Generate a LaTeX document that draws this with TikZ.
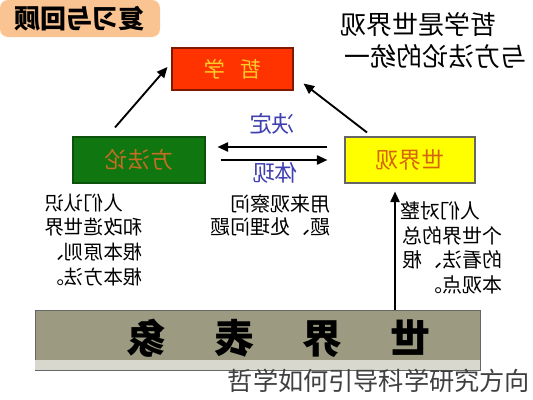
\documentclass[tikz,border=0pt]{standalone}
\usepackage{fontspec}
\usepackage{graphicx}
\setmainfont{Noto Sans CJK SC}
\usetikzlibrary{calc,arrows.meta}
\definecolor{tagbg}{RGB}{250,196,146}
\definecolor{zxred}{RGB}{255,51,0}
\definecolor{zxtext}{RGB}{255,204,40}
\definecolor{ffgreen}{RGB}{16,118,16}
\definecolor{fftext}{RGB}{196,110,36}
\definecolor{sjgyel}{RGB}{255,255,0}
\definecolor{sjgtext}{RGB}{214,100,10}
\definecolor{lblblue}{RGB}{64,64,176}
\definecolor{bbfill}{RGB}{156,155,130}
\definecolor{bband}{RGB}{216,216,206}
\newcommand\fsz[2]{\fontsize{#1pt}{#2pt}\selectfont}
\begin{document}
\begin{tikzpicture}[x=0.75pt,y=-0.75pt,
  tagbox/.style={fill=tagbg, rounded corners=6pt, inner sep=0pt,
    minimum width=160*0.75pt, minimum height=37*0.75pt},
  colbox/.style={draw, line width=0.8pt, inner sep=0pt},
  arr/.style={-{Triangle[length=8pt,width=7pt]}, line width=1.4pt},
  plain/.style={inner sep=0pt, text=black}]
\useasboundingbox (0,0) rectangle (533,400);
\fill[white] (0,0) rectangle (533,400);

% title tag
\node[tagbox] (tag) at (80,18.5) {\fsz{19.5}{22}\bfseries\reflectbox{复习与回顾}};

% top right statement
\node[plain] (stmt) at (433,44) {\fsz{19.5}{23.5}\reflectbox{\begin{tabular}{@{}l@{}}\hspace{22.5pt}哲学是世界观\\与方法论的统一\end{tabular}}};

% main boxes
\node[colbox, draw=zxred!50!black, fill=zxred, minimum width=121*0.75pt, minimum height=42*0.75pt, text=zxtext]
  (zx) at (232.5,69) {\fsz{16}{18}\reflectbox{哲\hspace{0.7em}学}};
\node[colbox, draw=ffgreen!70!black, fill=ffgreen, minimum width=132*0.75pt, minimum height=46*0.75pt, text=fftext]
  (ff) at (139,160) {\fsz{17}{20}\reflectbox{方法论}};
\node[colbox, draw=black!60, fill=sjgyel, minimum width=130*0.75pt, minimum height=46*0.75pt, text=sjgtext]
  (sjg) at (410,160) {\fsz{17}{20}\reflectbox{世界观}};

% bottom box
\node[colbox, draw=black!60, line width=0.6pt, fill=bbfill, minimum width=445*0.75pt, minimum height=60*0.75pt]
  (bb) at (257.5,340) {};
\fill[bband] ($(bb.south west)+(0.5,-10)$) rectangle ($(bb.south east)+(-0.5,-0.5)$);
\node[plain] (bbt) at (278.5,338) {\fsz{30}{34}\bfseries\reflectbox{世\hspace{36pt}界\hspace{36pt}表\hspace{36pt}象}};

% connector labels
\node[plain, text=lblblue] (jd) at (272,124) {\fsz{17}{20}\reflectbox{决定}};
\node[plain, text=lblblue] (tx) at (275,173) {\fsz{17}{20}\reflectbox{体现}};

% arrows
\draw[arr] ($(ff.north)+(-24,-9)$) -- ($(zx.west)+(-4,-2)$);
\draw[arr] ($(sjg.north)+(-43,-4)$) -- ($(zx.south east)+(10,-7)$);
\draw[arr] ($(sjg.west)+(-17,-13)$) -- ($(ff.east)+(12,-13)$);
\draw[arr] ($(ff.east)+(15,0)$) -- ($(sjg.west)+(-17,0)$);
\draw[arr] ($(bb.north)+(137.5,0)$) -- ($(sjg.south)+(-15,8)$);

% text blocks
\node[plain, anchor=north east] (lt) at (143,193) {\fsz{14.7}{18.4}\reflectbox{\begin{tabular}{@{}l@{}}\hspace{14.7pt}人们认识\\和改造世界\\根本原则、\\根本方法。\end{tabular}}};
\node[plain, anchor=north east] (mt) at (331,194) {\fsz{15}{16.5}\reflectbox{\begin{tabular}{@{}l@{}}用来观察问\\题、处理问题\end{tabular}}};
\node[plain, anchor=north east] (rt) at (503,201) {\fsz{15}{18.5}\reflectbox{\begin{tabular}{@{}l@{}}\hspace{17pt}人们对整\\个世界的总\\的看法、根\\本观点。\end{tabular}}};

% watermark
\node[plain, text=black!75] (wm) at (379,381) {\fsz{18.9}{21}哲学如何引导科学研究方向};
\end{tikzpicture}
\end{document}
